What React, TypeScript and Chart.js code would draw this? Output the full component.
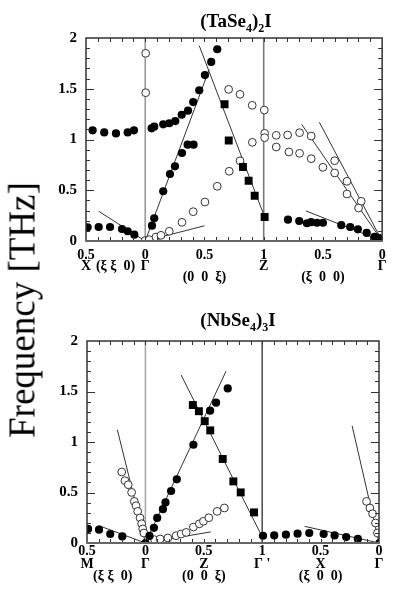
import React, { useEffect, useRef } from 'react';
import Chart from 'chart.js/auto';

const FONT = "'Liberation Serif', 'Times New Roman', serif";

// ===== (TaSe4)2I panel (x = distance along path X→Γ→Z→Γ, 0..2.5) =====
const taTitle = ['(TaSe', '4', ')', '2', 'I'];
const taTickPos = [0, 0.25, 0.5, 1.0, 1.5, 2.0, 2.5];
const taTickLabels = [['0.5', 'X'], ['', '(ξ ξ  0)'], ['0', 'Γ'], ['0.5', '', '(0  0  ξ)'], ['1', 'Z'], ['0.5', '', '(ξ  0  0)'], ['0', 'Γ']];

const taFilledUpperX = [0.056, 0.154, 0.253, 0.352, 0.405, 0.554, 0.576, 0.652, 0.703, 0.754, 0.808, 0.861, 0.905, 0.956, 1.004, 1.057, 1.108];
const taFilledUpperY = [1.09, 1.07, 1.06, 1.07, 1.09, 1.11, 1.126, 1.15, 1.16, 1.182, 1.244, 1.284, 1.369, 1.485, 1.635, 1.764, 1.889];
const taFilledLowX = [0.014, 0.107, 0.203, 0.304, 0.352, 0.408];
const taFilledLowY = [0.135, 0.138, 0.138, 0.118, 0.096, 0.062];
const taFilledAcX = [0.557, 0.576, 0.652, 0.709, 0.751, 0.81, 0.858, 0.908];
const taFilledAcY = [0.151, 0.224, 0.49, 0.66, 0.736, 0.867, 0.949, 0.949];
const taFilledZGX = [1.705, 1.8, 1.865, 1.9, 1.95, 2.0, 2.155, 2.23, 2.295, 2.37, 2.436, 2.47];
const taFilledZGY = [0.21, 0.197, 0.175, 0.185, 0.18, 0.18, 0.156, 0.138, 0.115, 0.08, 0.04, 0.03];
const taSquareX = [1.17, 1.205, 1.325, 1.373, 1.424, 1.508];
const taSquareY = [1.347, 0.99, 0.729, 0.594, 0.446, 0.236];
const taOpenX = [0.504, 0.504, 0.5, 0.534, 0.591, 0.633, 0.703, 0.81, 0.905, 1.004, 1.108, 1.209, 1.3, 1.404, 1.204, 1.3, 1.403, 1.505,
  1.508, 1.606, 1.702, 1.803, 1.901, 2.099, 2.203, 2.323, 1.508, 1.606, 1.713, 1.803, 1.901, 2.0, 2.099, 2.203, 2.301];
const taOpenY = [1.849, 1.461, 0.005, 0.013, 0.039, 0.056, 0.096, 0.184, 0.289, 0.384, 0.539, 0.687, 0.79, 0.972, 1.494, 1.445, 1.337, 1.29,
  1.061, 1.041, 1.044, 1.067, 1.034, 0.791, 0.588, 0.391, 1.018, 0.926, 0.877, 0.864, 0.811, 0.726, 0.67, 0.463, 0.325];
const taLineX = [[0.107, 0.5], [0.5, 1.0], [0.5, 1.04], [0.956, 1.508], [1.857, 2.5], [1.97, 2.5], [1.82, 2.5]];
const taLineY = [[0.293, 0], [0, 0.15], [0, 1.69], [1.924, 0.236], [0.296, 0], [1.17, 0], [1.15, 0]];
const taVLineX = [0.5, 1.5];
const taVLineColor = ['#9a9a9a', '#7a7a7a'];

// ===== (NbSe4)3I panel (x = distance along path M→Γ→Z→Γ'→X→Γ) =====
const nbTitle = ['(NbSe', '4', ')', '3', 'I'];
const nbTickPos = [0, 0.22, 0.5, 1.0, 1.5, 2.0, 2.5];
const nbTickLabels = [['0.5', 'M'], ['', '', '(ξ ξ  0)'], ['0', 'Γ'], ['0.5', 'Z', '(0  0  ξ)'], ['1', "Γ '"], ['0.5', 'X', '(ξ  0  0)'], ['0', 'Γ']];

const nbFilledMGX = [0.009, 0.103, 0.199, 0.302, 0.5];
const nbFilledMGY = [0.139, 0.132, 0.089, 0.065, 0.0];
const nbFilledGZX = [0.535, 0.573, 0.601, 0.65, 0.672, 0.72, 0.769, 0.911, 1.054, 1.105, 1.205];
const nbFilledGZY = [0.07, 0.15, 0.248, 0.335, 0.402, 0.515, 0.63, 0.973, 1.31, 1.389, 1.53];
const nbFilledXGX = [1.507, 1.603, 1.703, 1.803, 1.903, 2.026, 2.12, 2.219, 2.319, 2.504];
const nbFilledXGY = [0.072, 0.075, 0.082, 0.092, 0.099, 0.089, 0.075, 0.059, 0.04, 0.0];
const nbSquareX = [0.906, 0.958, 1.008, 1.055, 1.162, 1.253, 1.316, 1.43];
const nbSquareY = [1.366, 1.305, 1.206, 1.115, 0.832, 0.61, 0.501, 0.303];
const nbOpenX = [0.297, 0.325, 0.353, 0.382, 0.405, 0.42, 0.434, 0.454, 0.468, 0.477, 0.487,
  0.535, 0.578, 0.626, 0.692, 0.763, 0.806, 0.849, 0.911, 0.962, 0.997, 1.043, 1.114, 1.176,
  2.393, 2.422, 2.445, 2.47, 2.487];
const nbOpenY = [0.703, 0.617, 0.577, 0.501, 0.412, 0.369, 0.313, 0.248, 0.191, 0.139, 0.099,
  0.016, 0.033, 0.04, 0.05, 0.072, 0.089, 0.105, 0.158, 0.19, 0.215, 0.25, 0.313, 0.347,
  0.412, 0.346, 0.29, 0.198, 0.099];
const nbLineX = [[0.103, 0.5], [0.26, 0.5], [0.5, 1.06], [0.5, 1.19], [0.806, 1.5], [1.863, 2.5], [2.27, 2.5]];
const nbLineY = [[0.171, 0], [1.12, 0], [0, 0.11], [0, 1.70], [1.663, 0.06], [0.165, 0], [1.16, 0]];
const nbVLineX = [0.5, 1.5];
const nbVLineColor = ['#aaaaaa', '#555555'];

const yTickValues = [0, 0.5, 1, 1.5, 2];
const yTickLabels = ['0', '0.5', '1', '1.5', '2'];

function pts(xs: number[], ys: number[]) {
  return xs.map((x, i) => ({ x, y: ys[i] }));
}
function filled(xs: number[], ys: number[]) {
  return { data: pts(xs, ys), showLine: false, pointRadius: 4.1, pointBackgroundColor: '#000', pointBorderColor: '#000', pointBorderWidth: 0 };
}
function open(xs: number[], ys: number[]) {
  return { data: pts(xs, ys), showLine: false, pointRadius: 3.9, pointBackgroundColor: '#fff', pointBorderColor: '#333', pointBorderWidth: 1 };
}
function squares(xs: number[], ys: number[]) {
  return { data: pts(xs, ys), showLine: false, pointStyle: 'rect', pointRadius: 5.6, pointBackgroundColor: '#000', pointBorderColor: '#000', pointBorderWidth: 0 };
}
function lines(lx: number[][], ly: number[][]) {
  return lx.map((xs, i) => ({ data: pts(xs, ly[i]), showLine: true, pointRadius: 0, borderColor: '#333', borderWidth: 1 }));
}
function vlines(vx: number[], colors: string[]) {
  return vx.map((x, i) => ({ data: [{ x, y: 0 }, { x, y: 2 }], showLine: true, pointRadius: 0, borderColor: colors[i], borderWidth: 1.6 }));
}

const tickPlugin = {
  id: 'frameTicks',
  afterDatasetsDraw(chart: any) {
    const { ctx, chartArea: a, scales } = chart;
    const xs = scales.x, ys = scales.y;
    ctx.save();
    ctx.strokeStyle = '#333';
    ctx.lineWidth = 1;
    ctx.beginPath();
    for (let i = 1; i < 25; i++) {
      const px = Math.round(xs.getPixelForValue(i / 10)) + 0.5;
      const len = 4;
      ctx.moveTo(px, a.bottom); ctx.lineTo(px, a.bottom - len);
      ctx.moveTo(px, a.top); ctx.lineTo(px, a.top + len);
    }
    for (let i = 1; i < 20; i++) {
      const py = Math.round(ys.getPixelForValue(i / 10)) + 0.5;
      const len = i % 5 === 0 ? 8 : 4;
      ctx.moveTo(a.left, py); ctx.lineTo(a.left + len, py);
      ctx.moveTo(a.right, py); ctx.lineTo(a.right - len, py);
    }
    ctx.stroke();
    ctx.lineWidth = 1.5;
    ctx.strokeRect(a.left, a.top, a.right - a.left, a.bottom - a.top);
    ctx.strokeStyle = '#666';
    ctx.lineWidth = 2;
    ctx.beginPath();
    ctx.moveTo(a.left, a.bottom);
    ctx.lineTo(a.right, a.bottom);
    ctx.stroke();
    ctx.restore();
  },
};

const titlePlugin = {
  id: 'panelTitle',
  afterDraw(chart: any, _args: any, opts: any) {
    const { ctx } = chart;
    const parts: string[] = opts.parts;
    const main = `bold 19px ${FONT}`;
    const sub = `bold 12px ${FONT}`;
    ctx.save();
    let total = 0;
    const widths = parts.map((p, i) => {
      ctx.font = i % 2 ? sub : main;
      const w = ctx.measureText(p).width;
      total += w;
      return w;
    });
    let x = opts.cx - total / 2;
    ctx.fillStyle = '#000';
    ctx.textBaseline = 'alphabetic';
    ctx.textAlign = 'left';
    parts.forEach((p, i) => {
      ctx.font = i % 2 ? sub : main;
      ctx.fillText(p, x, opts.baseline + (i % 2 ? 5 : 0));
      x += widths[i];
    });
    ctx.restore();
  },
};

function buildConfig(p: any) {
  return {
    type: 'scatter',
    data: { datasets: p.datasets },
    plugins: [tickPlugin, titlePlugin],
    options: {
      responsive: false,
      animation: false,
      devicePixelRatio: 1,
      events: [],
      layout: { padding: { top: p.padTop, right: p.padRight, left: 0, bottom: 0 } },
      plugins: {
        legend: { display: false },
        tooltip: { enabled: false },
        panelTitle: { parts: p.title, cx: p.titleX, baseline: p.titleY },
      },
      scales: {
        x: {
          type: 'linear', min: 0, max: 2.5,
          grid: { display: false, drawTicks: false },
          border: { display: false },
          afterBuildTicks: (s: any) => { s.ticks = p.tickPos.map((v: number) => ({ value: v })); },
          afterFit: (s: any) => { s.height = p.xHeight; },
          ticks: {
            autoSkip: false, maxRotation: 0, minRotation: 0, padding: p.xPad, color: '#000',
            font: { family: FONT, size: 14, weight: 'bold', lineHeight: p.xLine },
            callback: (_v: any, i: number) => p.tickLabels[i],
          },
        },
        y: {
          type: 'linear', min: 0, max: 2,
          grid: { display: false, drawTicks: false },
          border: { display: false },
          afterBuildTicks: (s: any) => { s.ticks = yTickValues.map((v) => ({ value: v })); },
          afterFit: (s: any) => { s.width = p.yWidth; },
          ticks: {
            padding: 9, color: '#000',
            font: { family: FONT, size: 15, weight: 'bold' },
            callback: (_v: any, i: number) => yTickLabels[i],
          },
        },
      },
    },
  };
}

const taPanel = {
  title: taTitle, titleX: 236, titleY: 27,
  padTop: 38, padRight: 12, xHeight: 59, yWidth: 86, xPad: 8.4, xLine: 0.8,
  tickPos: taTickPos, tickLabels: taTickLabels,
  datasets: [
    squares(taSquareX, taSquareY),
    filled(taFilledUpperX, taFilledUpperY),
    filled(taFilledLowX, taFilledLowY),
    filled(taFilledAcX, taFilledAcY),
    filled(taFilledZGX, taFilledZGY),
    open(taOpenX, taOpenY),
    ...lines(taLineX, taLineY),
    ...vlines(taVLineX, taVLineColor),
  ],
};

const nbPanel = {
  title: nbTitle, titleX: 238, titleY: 26,
  padTop: 41, padRight: 16, xHeight: 57, yWidth: 87, xPad: 2.1, xLine: 0.9,
  tickPos: nbTickPos, tickLabels: nbTickLabels,
  datasets: [
    squares(nbSquareX, nbSquareY),
    filled(nbFilledMGX, nbFilledMGY),
    filled(nbFilledGZX, nbFilledGZY),
    filled(nbFilledXGX, nbFilledXGY),
    open(nbOpenX, nbOpenY),
    ...lines(nbLineX, nbLineY),
    ...vlines(nbVLineX, nbVLineColor),
  ],
};

function Panel({ panel, top }: { panel: any; top: number }) {
  const ref = useRef<HTMLCanvasElement>(null);
  useEffect(() => {
    const chart = new Chart(ref.current as HTMLCanvasElement, buildConfig(panel) as any);
    return () => chart.destroy();
  }, []);
  return (
    <canvas
      ref={ref}
      width={395}
      height={300}
      style={{ position: 'absolute', left: 0, top, width: 395, height: 300 }}
    />
  );
}

export default function App() {
  return (
    <div style={{ position: 'absolute', left: 0, top: 0, width: 395, height: 600, background: '#fff', overflow: 'hidden' }}>
      <Panel panel={taPanel} top={0} />
      <Panel panel={nbPanel} top={300} />
      <div
        style={{
          position: 'absolute', left: 22, top: 310,
          transform: 'translate(-50%, -50%) rotate(-90deg)',
          whiteSpace: 'nowrap', fontFamily: FONT, fontSize: 37, lineHeight: 1, color: '#000',
        }}
      >
        Frequency [THz]
      </div>
    </div>
  );
}
